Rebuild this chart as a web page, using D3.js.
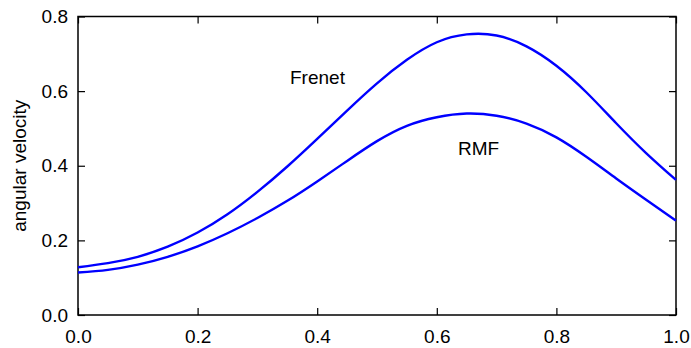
<!DOCTYPE html>
<html>
<head>
<meta charset="utf-8">
<script src="https://cdn.jsdelivr.net/npm/d3@7"></script>
<style>
  body { margin: 0; background: #fff; }
  svg { display: block; }
  text { font-family: "Liberation Sans", Arial, sans-serif; }
</style>
</head>
<body>
<svg id="chart"></svg>
<script>
// values
const xs = [0.00, 0.05, 0.10, 0.15, 0.20, 0.25, 0.30, 0.35, 0.40, 0.45, 0.50,
            0.55, 0.60, 0.65, 0.70, 0.75, 0.80, 0.85, 0.90, 0.95, 1.00];
const frenet = [0.128, 0.139, 0.156, 0.183, 0.221, 0.270, 0.330, 0.398, 0.472, 0.548, 0.621,
                0.684, 0.731, 0.752, 0.749, 0.720, 0.668, 0.597, 0.514, 0.434, 0.362];
const rmf = [0.114, 0.121, 0.135, 0.156, 0.184, 0.219, 0.260, 0.306, 0.358, 0.413, 0.466,
             0.507, 0.530, 0.540, 0.534, 0.513, 0.476, 0.424, 0.366, 0.309, 0.253];
const xTicks = [0, 0.2, 0.4, 0.6, 0.8, 1.0];
const yTicks = [0, 0.2, 0.4, 0.6, 0.8];

const width = 691, height = 348;
const margin = {top: 16.5, right: 15, bottom: 33, left: 78};

const svg = d3.select("#chart")
    .attr("width", width)
    .attr("height", height);

const x = d3.scaleLinear()
    .domain([0, 1])
    .range([margin.left, width - margin.right]);

const y = d3.scaleLinear()
    .domain([0, 0.8])
    .range([height - margin.bottom, margin.top]);

const fmt = d3.format(".1f");

function styleAxis(g) {
    g.select(".domain").remove();
    g.selectAll("line").attr("stroke", "#000").attr("stroke-width", 1.2);
    g.selectAll("text").attr("font-size", 19).attr("fill", "#000");
}

svg.append("g")
    .attr("transform", `translate(0,${y(0)})`)
    .call(d3.axisBottom(x).tickValues(xTicks).tickFormat(fmt).tickSize(-7).tickPadding(15))
    .call(styleAxis);

svg.append("g")
    .attr("transform", `translate(${x(0)},0)`)
    .call(d3.axisLeft(y).tickValues(yTicks).tickFormat(fmt).tickSize(-7).tickPadding(10))
    .call(styleAxis);

svg.append("g")
    .attr("transform", `translate(0,${y(0.8)})`)
    .call(d3.axisTop(x).tickValues(xTicks).tickFormat("").tickSize(-7))
    .call(styleAxis);

svg.append("g")
    .attr("transform", `translate(${x(1)},0)`)
    .call(d3.axisRight(y).tickValues(yTicks).tickFormat("").tickSize(-7))
    .call(styleAxis);

// frame
svg.append("rect")
    .attr("x", x(0))
    .attr("y", y(0.8))
    .attr("width", x(1) - x(0))
    .attr("height", y(0) - y(0.8))
    .attr("fill", "none")
    .attr("stroke", "#000")
    .attr("stroke-width", 1.5);

const line = d3.line()
    .x((d, i) => x(xs[i]))
    .y(d => y(d))
    .curve(d3.curveNatural);

[frenet, rmf].forEach(s => {
    svg.append("path")
        .datum(s)
        .attr("fill", "none")
        .attr("stroke", "#0000ff")
        .attr("stroke-width", 2.4)
        .attr("d", line);
});

svg.append("text")
    .attr("x", 290)
    .attr("y", 83.5)
    .attr("font-size", 19)
    .text("Frenet");

svg.append("text")
    .attr("x", 458)
    .attr("y", 155)
    .attr("font-size", 19)
    .text("RMF");

svg.append("text")
    .attr("transform", `translate(26,${(y(0) + y(0.8)) / 2}) rotate(-90)`)
    .attr("text-anchor", "middle")
    .attr("font-size", 19)
    .text("angular velocity");
</script>
</body>
</html>
